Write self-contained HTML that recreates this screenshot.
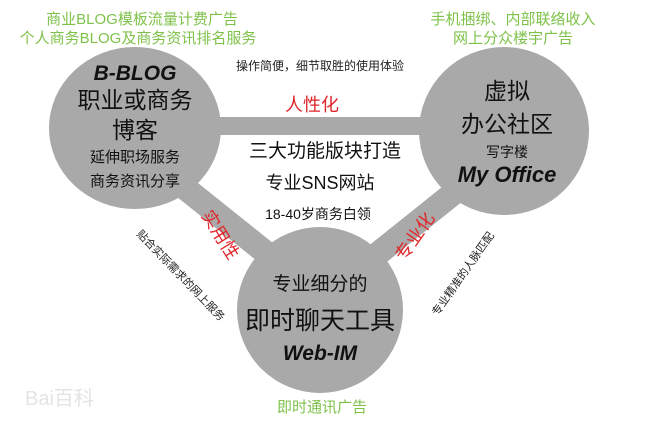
<!DOCTYPE html>
<html><head><meta charset="utf-8"><style>
html,body{margin:0;padding:0;background:#fff;}
svg{display:block;}
text{font-family:"Liberation Sans","Noto Sans CJK SC",sans-serif;}
</style></head><body>
<svg width="660" height="424" viewBox="0 0 660 424">
  <g fill="#a9a9a9">
    <rect x="200" y="117" width="250" height="18"/>
    <line x1="175" y1="180" x2="300" y2="280" stroke="#a9a9a9" stroke-width="24"/>
    <line x1="470" y1="180" x2="345" y2="280" stroke="#a9a9a9" stroke-width="24"/>
  </g>
  <ellipse cx="135" cy="128" rx="86" ry="81" fill="#a9a9a9"/>
  <ellipse cx="504" cy="131" rx="85" ry="84" fill="#a9a9a9"/>
  <ellipse cx="320" cy="310" rx="83" ry="83" fill="#a9a9a9"/>

  <g fill="#7fc24a" font-size="15" text-anchor="middle">
    <text x="142" y="24">商业BLOG模板流量计费广告</text>
    <text x="138" y="43">个人商务BLOG及商务资讯排名服务</text>
  </g>
  <g fill="#7fc24a" font-size="15" text-anchor="middle">
    <text x="513" y="24">手机捆绑、内部联络收入</text>
    <text x="513" y="43">网上分众楼宇广告</text>
  </g>
  <text x="322" y="412" fill="#7fc24a" font-size="15" text-anchor="middle">即时通讯广告</text>

  <text x="320" y="70" font-size="12" text-anchor="middle" fill="#222">操作简便，细节取胜的使用体验</text>
  <text x="312" y="111" font-size="18" text-anchor="middle" fill="#e0262b">人性化</text>

  <g text-anchor="middle" fill="#111">
    <text x="325" y="157" font-size="19">三大功能版块打造</text>
    <text x="320" y="189" font-size="18">专业SNS网站</text>
    <text x="318" y="219" font-size="14">18-40岁商务白领</text>
  </g>

  <g text-anchor="middle" fill="#111">
    <text x="135" y="80" font-size="21" font-weight="bold" font-style="italic">B-BLOG</text>
    <text x="135" y="108" font-size="23">职业或商务</text>
    <text x="135" y="138" font-size="23">博客</text>
    <text x="135" y="162" font-size="15">延伸职场服务</text>
    <text x="135" y="186" font-size="15">商务资讯分享</text>
  </g>
  <g text-anchor="middle" fill="#111">
    <text x="507" y="99" font-size="23">虚拟</text>
    <text x="507" y="132" font-size="23">办公社区</text>
    <text x="507" y="157" font-size="14">写字楼</text>
    <text x="507" y="182" font-size="22" font-weight="bold" font-style="italic">My Office</text>
  </g>
  <g text-anchor="middle" fill="#111">
    <text x="320" y="290" font-size="19">专业细分的</text>
    <text x="320" y="329" font-size="25">即时聊天工具</text>
    <text x="320" y="360" font-size="21" font-weight="bold" font-style="italic">Web-IM</text>
  </g>

  <text transform="translate(215,238) rotate(58)" font-size="18" fill="#e0262b" text-anchor="middle">实用性</text>
  <text transform="translate(178,278) rotate(46)" font-size="11" fill="#222" text-anchor="middle">贴合实际需求的网上服务</text>
  <text transform="translate(420,240) rotate(-55)" font-size="18" fill="#e0262b" text-anchor="middle">专业化</text>
  <text transform="translate(466,276) rotate(-55)" font-size="11" fill="#222" text-anchor="middle">专业精准的人脉匹配</text>

  <text x="25" y="405" font-size="20" fill="#e4e4e4">Bai百科</text>
</svg>
</body></html>
